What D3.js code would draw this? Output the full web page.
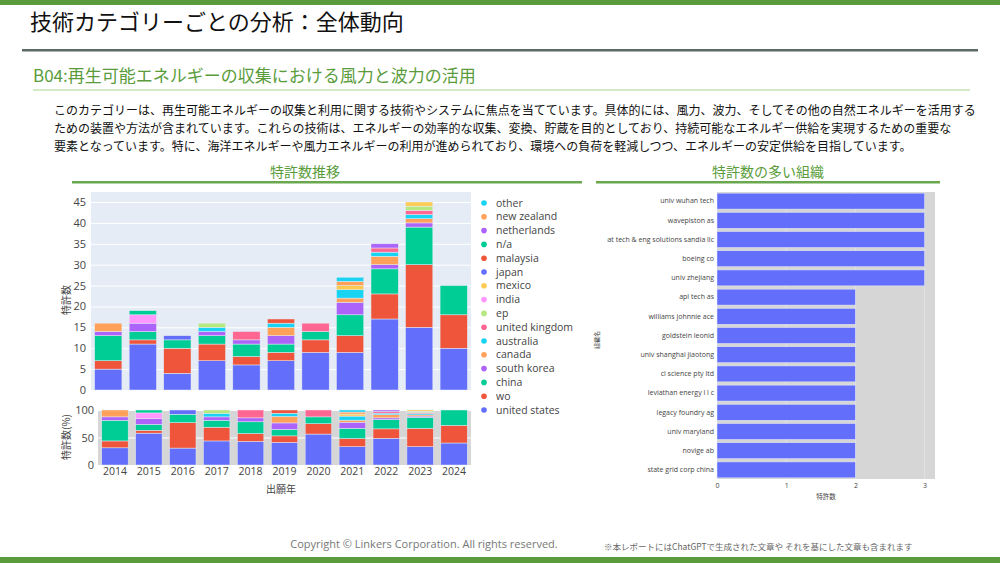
<!DOCTYPE html>
<html><head><meta charset="utf-8">
<script src="https://cdn.jsdelivr.net/npm/d3@7"></script>
<style>
html,body{margin:0;padding:0;background:#fff;}
svg{display:block;}
</style></head>
<body>
<svg id="c" width="1000" height="563"></svg>
<script>
// ---------- DATA ----------
const years = ["2014","2015","2016","2017","2018","2019","2020","2021","2022","2023","2024"];
const seriesNames = ["united states","wo","china","south korea","canada","australia","united kingdom","ep","india","mexico","japan","malaysia","n/a","netherlands","new zealand","other"];
const unitedStates  = [5,11,4,7,6,7,9,9,17,15,10];
const wo            = [2,1,6,4,2,2,3,4,6,15,8];
const china         = [6,2,2,2,3,2,2,5,6,9,7];
const southKorea    = [1,2,0,1,1,2,0,3,1,1,0];
const canada        = [2,0,0,0,0,2,0,1,2,1,0];
const australia     = [0,0,0,1,0,1,0,2,1,1,0];
const unitedKingdom = [0,0,0,0,2,0,2,0,1,1,0];
const ep            = [0,0,0,1,0,0,0,0,0,1,0];
const india         = [0,2,0,0,0,0,0,0,0,0,0];
const mexico        = [0,0,0,0,0,0,0,1,0,1,0];
const japan         = [0,0,1,0,0,0,0,0,0,0,0];
const malaysia      = [0,0,0,0,0,1,0,0,0,0,0];
const na            = [0,1,0,0,0,0,0,0,0,0,0];
const netherlands   = [0,0,0,0,0,0,0,0,1,0,0];
const newZealand    = [0,0,0,0,0,0,0,1,0,0,0];
const other         = [0,0,0,0,0,0,0,1,0,0,0];
const seriesValues = [unitedStates,wo,china,southKorea,canada,australia,unitedKingdom,ep,india,mexico,japan,malaysia,na,netherlands,newZealand,other];
const yTicksCount = [0,5,10,15,20,25,30,35,40,45];
const yTicksPct = [0,50,100];

const orgNames = ["univ wuhan tech","wavepiston as","nat tech & eng solutions sandia llc","boeing co","univ zhejiang","apl tech as","williams johnnie ace","goldstein leonid","univ shanghai jiaotong","cl science pty ltd","leviathan energy l l c","legacy foundry ag","univ maryland","novige ab","state grid corp china"];
const orgCounts = [3,3,3,3,3,2,2,2,2,2,2,2,2,2,2];
const orgTicks = [0,1,2,3];

const palette = ["#636EFA","#EF553B","#00CC96","#AB63FA","#FFA15A","#19D3F3","#FF6692","#B6E880","#FF97FF","#FECB52"];

// ---------- DRAW ----------
const svg = d3.select("#c");
const JP = "'Noto Sans CJK JP','Noto Sans',sans-serif";
const OS = "'Open Sans','Noto Sans',sans-serif";

// header
svg.append("rect").attr("x",0).attr("y",0).attr("width",1000).attr("height",5).attr("fill","#5A9C3B");
svg.append("rect").attr("x",0).attr("y",557).attr("width",1000).attr("height",6).attr("fill","#5A9C3B");
svg.append("text").attr("x",30).attr("y",30).attr("font-family",JP).attr("font-size",22).attr("fill","#111")
  .text("技術カテゴリーごとの分析：全体動向");
svg.append("rect").attr("x",22).attr("y",49).attr("width",956).attr("height",2.5).attr("fill","#5E6A64");
svg.append("text").attr("x",33).attr("y",82).attr("font-family",JP).attr("font-size",17).attr("fill","#5A9C3B")
  .text("B04:再生可能エネルギーの収集における風力と波力の活用");
svg.append("rect").attr("x",33).attr("y",89.5).attr("width",937).attr("height",1).attr("fill","#A9D18E");

const para = [
 "このカテゴリーは、再生可能エネルギーの収集と利用に関する技術やシステムに焦点を当てています。具体的には、風力、波力、そしてその他の自然エネルギーを活用する",
 "ための装置や方法が含まれています。これらの技術は、エネルギーの効率的な収集、変換、貯蔵を目的としており、持続可能なエネルギー供給を実現するための重要な",
 "要素となっています。特に、海洋エネルギーや風力エネルギーの利用が進められており、環境への負荷を軽減しつつ、エネルギーの安定供給を目指しています。"
];
para.forEach((p,i)=>{
  svg.append("text").attr("x",54).attr("y",115+i*18).attr("font-family",JP).attr("font-size",12)
    .attr("fill","#111").text(p);
});

// section headers
svg.append("text").attr("x",305).attr("y",177).attr("text-anchor","middle").attr("font-family",JP).attr("font-size",14).attr("fill","#5A9C3B").text("特許数推移");
svg.append("rect").attr("x",72).attr("y",181).attr("width",510).attr("height",2.5).attr("fill","#6AA84F");
svg.append("text").attr("x",768).attr("y",177).attr("text-anchor","middle").attr("font-family",JP).attr("font-size",14).attr("fill","#5A9C3B").text("特許数の多い組織");
svg.append("rect").attr("x",596).attr("y",181).attr("width",344).attr("height",2.5).attr("fill","#6AA84F");

// ---------- left stacked chart ----------
const x = d3.scaleBand().domain(years).range([91,471]).paddingInner(0.21).paddingOuter(0.105);
const xP = d3.scaleBand().domain(years).range([98,471]).paddingInner(0.22).paddingOuter(0.11);
const yTop = d3.scaleLinear().domain([0,47.4]).range([390,192]);
const yPct = d3.scaleLinear().domain([0,100]).range([465,410]);

const rows = years.map((yr,i)=>{ const o={year:yr}; seriesNames.forEach((s,k)=>o[s]=seriesValues[k][i]); return o; });
const stack = d3.stack().keys(seriesNames);
const stacked = stack(rows);
const totals = years.map((yr,i)=>d3.sum(seriesValues,v=>v[i]));
const rowsPct = rows.map((r,i)=>{ const o={year:r.year}; seriesNames.forEach(s=>o[s]=r[s]/totals[i]*100); return o; });
const stackedPct = stack(rowsPct);
const color = d3.scaleOrdinal().domain(seriesNames).range(seriesNames.map((s,i)=>palette[i%10]));

svg.append("rect").attr("x",91).attr("y",192).attr("width",380).attr("height",198).attr("fill","#E5ECF6");
const gyT = svg.append("g").attr("transform","translate(91,0)")
  .call(d3.axisLeft(yTop).tickValues(yTicksCount).tickSize(-380).tickFormat(d3.format("d")));
gyT.select(".domain").remove();
gyT.selectAll("line").attr("stroke","#fff").attr("stroke-width",1);
gyT.selectAll("text").attr("font-family",OS).attr("font-size",11).attr("fill","#444").attr("x",-5);

svg.append("g").selectAll("g").data(stacked).join("g").attr("fill",d=>color(d.key))
  .selectAll("rect").data(d=>d).join("rect")
  .attr("x",d=>x(d.data.year)).attr("width",x.bandwidth())
  .attr("y",d=>yTop(d[1])).attr("height",d=>yTop(d[0])-yTop(d[1]))
  .attr("stroke","#E5ECF6").attr("stroke-width",0.5);

svg.append("rect").attr("x",98).attr("y",410).attr("width",373).attr("height",55).attr("fill","#D6D6D6");
const gyP = svg.append("g").attr("transform","translate(98,0)")
  .call(d3.axisLeft(yPct).tickValues(yTicksPct).tickSize(-373));
gyP.select(".domain").remove();
gyP.selectAll("line").attr("stroke","#fff").attr("stroke-width",1);
gyP.selectAll("text").attr("font-family",OS).attr("font-size",11).attr("fill","#444").attr("x",-4);

svg.append("g").selectAll("g").data(stackedPct).join("g").attr("fill",d=>color(d.key))
  .selectAll("rect").data(d=>d).join("rect")
  .attr("x",d=>xP(d.data.year)).attr("width",xP.bandwidth())
  .attr("y",d=>yPct(d[1])).attr("height",d=>yPct(d[0])-yPct(d[1]))
  .attr("stroke","#E5ECF6").attr("stroke-width",0.5);

const gx = svg.append("g").attr("transform","translate(0,465)").call(d3.axisBottom(xP).tickSize(0));
gx.select(".domain").remove();
gx.selectAll("text").attr("font-family",OS).attr("font-size",10.5).attr("fill","#444").attr("dy","0.71em").attr("y",3);

svg.append("text").attr("x",281).attr("y",493).attr("text-anchor","middle").attr("font-family",JP).attr("font-size",10).attr("fill","#444").text("出願年");
svg.append("text").attr("transform","translate(70,300) rotate(-90)").attr("text-anchor","middle").attr("font-family",JP).attr("font-size",10).attr("fill","#444").text("特許数");
svg.append("text").attr("transform","translate(70,437) rotate(-90)").attr("text-anchor","middle").attr("font-family",JP).attr("font-size",10).attr("fill","#444").text("特許数(%)");

// legend
const legendOrder = seriesNames.slice().reverse();
const lg = svg.append("g").selectAll("g").data(legendOrder).join("g")
  .attr("transform",(d,i)=>`translate(484,${203+i*13.8})`);
lg.append("circle").attr("r",2.8).attr("fill",d=>color(d));
lg.append("text").attr("x",12).attr("dy","0.35em").attr("font-family",OS).attr("font-size",10.5).attr("fill","#444").text(d=>d);

// ---------- right horizontal bar chart ----------
const xr = d3.scaleLinear().domain([0,3.15]).range([717,935]);
const yr = d3.scaleBand().domain(orgNames).range([192,479]).paddingInner(0.17).paddingOuter(0.06);
svg.append("rect").attr("x",717).attr("y",192).attr("width",218).attr("height",287).attr("fill","#D6D6D6");
svg.append("g").selectAll("line").data(orgTicks.slice(1)).join("line")
  .attr("x1",d=>xr(d)).attr("x2",d=>xr(d)).attr("y1",192).attr("y2",479).attr("stroke","#E2E2E2").attr("stroke-width",1);
svg.append("g").selectAll("rect").data(orgNames).join("rect")
  .attr("x",xr(0)).attr("y",d=>yr(d)).attr("height",yr.bandwidth())
  .attr("width",(d,i)=>xr(orgCounts[i])-xr(0)).attr("fill","#636EFA")
  .attr("stroke","#E5ECF6").attr("stroke-width",0.5);
svg.append("clipPath").attr("id","lclip").append("rect").attr("x",607).attr("y",185).attr("width",120).attr("height",300);
const gyrOuter = svg.append("g").attr("clip-path","url(#lclip)");
const gyr = gyrOuter.append("g").attr("transform","translate(717,0)")
  .call(d3.axisLeft(yr).tickSize(0));
gyr.select(".domain").remove();
gyr.selectAll("text").attr("font-family",OS).attr("font-size",7).attr("fill","#444").attr("x",-3);
const gxr = svg.append("g").attr("transform","translate(0,479)").call(d3.axisBottom(xr).tickValues(orgTicks).tickSize(0).tickFormat(d3.format("d")));
gxr.select(".domain").remove();
gxr.selectAll("text").attr("font-family",OS).attr("font-size",7).attr("fill","#444").attr("y",4);
svg.append("text").attr("x",826).attr("y",499).attr("text-anchor","middle").attr("font-family",JP).attr("font-size",6.5).attr("fill","#444").text("特許数");
svg.append("text").attr("transform","translate(599,340) rotate(-90)").attr("text-anchor","middle").attr("font-family",JP).attr("font-size",6).attr("fill","#444").text("組織名");

// footer
svg.append("text").attr("x",424).attr("y",548).attr("text-anchor","middle").attr("font-family",OS).attr("font-size",11).attr("fill","#777")
  .text("Copyright © Linkers Corporation. All rights reserved.");
svg.append("text").attr("x",604).attr("y",550).attr("font-family",JP).attr("font-size",8.5).attr("fill","#666")
  .text("※本レポートにはChatGPTで生成された文章や それを基にした文章も含まれます");
</script>
</body></html>
